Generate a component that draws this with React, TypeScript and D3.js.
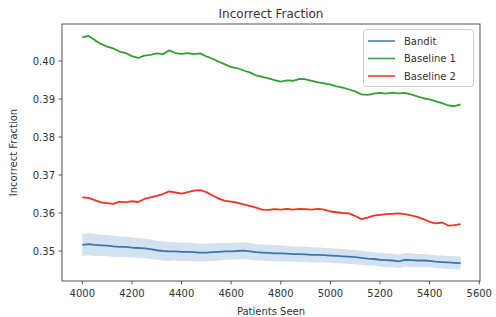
import React from "react";
import * as d3 from "d3";

const patients: number[] = d3.range(4000, 5526, 25);

const bandit: number[] = [
  0.3516, 0.3518, 0.3516, 0.3515, 0.3514, 0.3512, 0.3511, 0.3511, 0.3509, 0.3508,
  0.3507, 0.3505, 0.3502, 0.35, 0.3499, 0.3499, 0.3498, 0.3498, 0.3497, 0.3496,
  0.3496, 0.3497, 0.3498, 0.3499, 0.3499, 0.35, 0.3501, 0.3499, 0.3497, 0.3496,
  0.3495, 0.3494, 0.3494, 0.3493, 0.3492, 0.3492, 0.3491, 0.349, 0.349, 0.3489,
  0.3488, 0.3487, 0.3486, 0.3485, 0.3484, 0.3482, 0.348, 0.3479, 0.3477, 0.3476,
  0.3475, 0.3473, 0.3477, 0.3476, 0.3475, 0.3475, 0.3474, 0.3472, 0.3471, 0.347,
  0.3469, 0.3468,
];

const banditSpread: number[] = [
  0.0029, 0.0029, 0.0029, 0.0028, 0.0028, 0.0028, 0.0027, 0.0027, 0.0027, 0.0026,
  0.0026, 0.0026, 0.0025, 0.0025, 0.0025, 0.0024, 0.0024, 0.0024, 0.0024, 0.0023,
  0.0023, 0.0023, 0.0023, 0.0022, 0.0022, 0.0022, 0.0022, 0.0022, 0.0021, 0.0021,
  0.0021, 0.0021, 0.0021, 0.002, 0.002, 0.002, 0.002, 0.002, 0.002, 0.0019,
  0.0019, 0.0019, 0.0019, 0.0019, 0.0019, 0.0019, 0.0018, 0.0018, 0.0018, 0.0018,
  0.0018, 0.0018, 0.0018, 0.0018, 0.0017, 0.0017, 0.0017, 0.0017, 0.0017, 0.0017,
  0.0017, 0.0017,
];

const baseline1: number[] = [
  0.4062, 0.4066, 0.4055, 0.4045, 0.4038, 0.4033, 0.4025, 0.4021, 0.4013, 0.4008,
  0.4014, 0.4016, 0.402, 0.4018, 0.4028, 0.4021, 0.4019, 0.4021, 0.4018, 0.402,
  0.4012, 0.4006, 0.3998, 0.3991, 0.3984, 0.3981, 0.3975, 0.397, 0.3962, 0.3958,
  0.3954, 0.395, 0.3946, 0.3949, 0.3948, 0.3953, 0.3952, 0.3948, 0.3944, 0.3941,
  0.3938, 0.3933, 0.393, 0.3925, 0.392, 0.3912, 0.3911, 0.3914, 0.3916, 0.3914,
  0.3917, 0.3915, 0.3916, 0.3912, 0.3907, 0.3902, 0.3899, 0.3894, 0.3889, 0.3883,
  0.3881, 0.3886,
];

const baseline2: number[] = [
  0.3641, 0.364, 0.3634, 0.3628, 0.3626, 0.3624, 0.363, 0.3628, 0.3631, 0.3629,
  0.3637, 0.3641, 0.3645, 0.365, 0.3657, 0.3654, 0.3651, 0.3655, 0.3659, 0.366,
  0.3655, 0.3646, 0.3638, 0.3632, 0.363, 0.3627, 0.3623, 0.3619, 0.3614, 0.3609,
  0.3608, 0.361, 0.3609, 0.3611, 0.3609, 0.3611, 0.361, 0.3609, 0.3611, 0.3609,
  0.3604, 0.3602, 0.36, 0.3599, 0.3592, 0.3584, 0.3588, 0.3593, 0.3595, 0.3597,
  0.3598, 0.3599, 0.3597, 0.3594, 0.359, 0.3584, 0.3577, 0.3573, 0.3575, 0.3567,
  0.3568, 0.3571,
];

const xTicks: number[] = [4000, 4200, 4400, 4600, 4800, 5000, 5200, 5400, 5600];
const yTicks: number[] = [0.35, 0.36, 0.37, 0.38, 0.39, 0.4];
const seriesNames: string[] = ["Bandit", "Baseline 1", "Baseline 2"];
const seriesColors: string[] = ["#3a77b2", "#30a030", "#ee3226"];

const W = 496;
const H = 317;
const M = { left: 62, right: 480, top: 24, bottom: 281 };
const FONT = "DejaVu Sans, sans-serif";

export default function App() {
  const x = d3.scaleLinear().domain([3918, 5603]).range([M.left, M.right]);
  const y = d3.scaleLinear().domain([0.34211, 0.40974]).range([M.bottom, M.top]);

  const line = d3
    .line<[number, number]>()
    .x((d) => x(d[0]))
    .y((d) => y(d[1]));
  const area = d3
    .area<number>()
    .x((_, i) => x(patients[i]))
    .y0((d, i) => y(d - banditSpread[i]))
    .y1((d, i) => y(d + banditSpread[i]));

  const series = [bandit, baseline1, baseline2];
  const legendY = [41, 58.5, 76];

  return (
    <svg
      width={W}
      height={H}
      style={{ position: "absolute", left: 0, top: 0, background: "#fff" }}
      fontFamily={FONT}
    >
      <rect x={0} y={0} width={W} height={H} fill="#fff" />
      <path d={area(bandit) || ""} fill="#3a77b2" fillOpacity={0.22} stroke="none" />
      {series.map((s, k) => (
        <path
          key={k}
          d={line(s.map((v, i) => [patients[i], v] as [number, number])) || ""}
          fill="none"
          stroke={seriesColors[k]}
          strokeWidth={1.8}
          strokeLinejoin="round"
        />
      ))}
      <rect
        x={M.left}
        y={M.top}
        width={M.right - M.left}
        height={M.bottom - M.top}
        fill="none"
        stroke="#555"
        strokeWidth={1}
      />
      {xTicks.map((t) => (
        <g key={t} transform={`translate(${x(t)},${M.bottom})`}>
          <line y2={3.5} stroke="#555" />
          <text y={16} textAnchor="middle" fontSize={10} fill="#333">
            {t}
          </text>
        </g>
      ))}
      {yTicks.map((t) => (
        <g key={t} transform={`translate(${M.left},${y(t)})`}>
          <line x2={-3.5} stroke="#555" />
          <text x={-7} dy="0.35em" textAnchor="end" fontSize={10} fill="#333">
            {t.toFixed(2)}
          </text>
        </g>
      ))}
      <text x={(M.left + M.right) / 2} y={17.5} textAnchor="middle" fontSize={12} fill="#333">
        Incorrect Fraction
      </text>
      <text x={(M.left + M.right) / 2} y={314.5} textAnchor="middle" fontSize={10} fill="#333">
        Patients Seen
      </text>
      <text
        transform={`translate(17,${(M.top + M.bottom) / 2}) rotate(-90)`}
        textAnchor="middle"
        fontSize={10}
        fill="#333"
      >
        Incorrect Fraction
      </text>
      <rect x={363.5} y={29.5} width={110} height={57} rx={3} fill="#fff" fillOpacity={0.8} stroke="#ccc" />
      {seriesNames.map((n, k) => (
        <g key={n}>
          <line x1={368} x2={395} y1={legendY[k]} y2={legendY[k]} stroke={seriesColors[k]} strokeWidth={1.5} />
          <text x={404} y={legendY[k]} dy="0.35em" fontSize={10} fill="#333">
            {n}
          </text>
        </g>
      ))}
    </svg>
  );
}
